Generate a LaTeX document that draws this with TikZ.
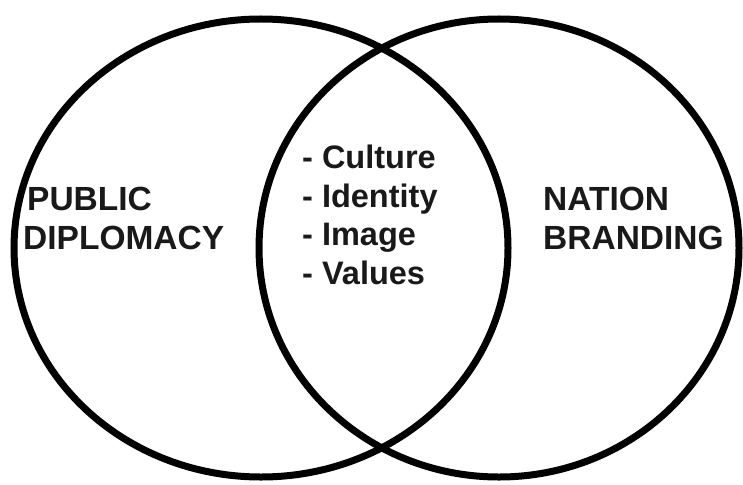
\documentclass[tikz,border=0pt]{standalone}
\usepackage{fontspec}
\setmainfont{Liberation Sans}
\begin{document}
\begin{tikzpicture}[x=1pt,y=-1pt,
  ring/.style={draw=black,line width=7pt},
  label/.style={anchor=north west,inner sep=0pt,align=left,
    font=\bfseries\fontsize{33.5}{38.5}\selectfont,text=black!90},
  list/.style={label,font=\bfseries\fontsize{32.5}{38.5}\selectfont}]
  \useasboundingbox[fill=white] (0,0) rectangle (743,484);
  % the two overlapping fields
  \draw[ring] (261,248) ellipse [x radius=247, y radius=229];
  \draw[ring] (499,248) ellipse [x radius=240, y radius=229];
  % field names
  \node[label] (pd) at (23,187) {\hspace{4pt}PUBLIC\\DIPLOMACY};
  \node[label] (nb) at (543,187) {NATION\\BRANDING};
  % shared ground
  \node[list] (shared) at (302,145) {- Culture\\- Identity\\- Image\\- Values};
\end{tikzpicture}
\end{document}
